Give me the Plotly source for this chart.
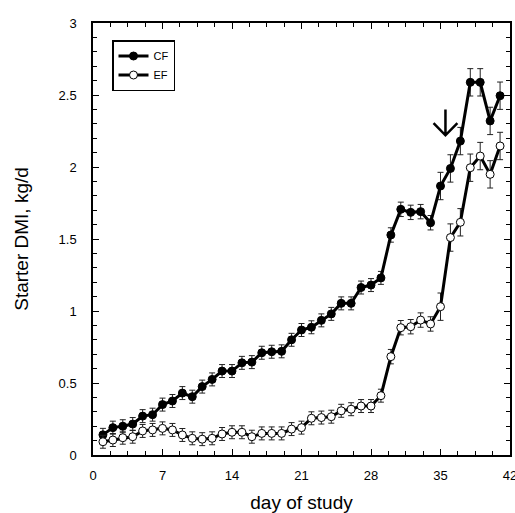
import plotly.graph_objects as go

days = list(range(1, 42))
cf_dmi = [0.14, 0.19, 0.20, 0.215, 0.27, 0.28, 0.35, 0.375, 0.43, 0.405,
          0.475, 0.525, 0.583, 0.583, 0.64, 0.645, 0.71, 0.717, 0.72, 0.80,
          0.868, 0.887, 0.935, 0.98, 1.053, 1.053, 1.163, 1.18, 1.23, 1.528,
          1.706, 1.685, 1.69, 1.613, 1.868, 1.99, 2.18, 2.588, 2.588, 2.32, 2.495]
ef_dmi = [0.092, 0.104, 0.12, 0.127, 0.167, 0.174, 0.185, 0.174, 0.139, 0.116,
          0.11, 0.116, 0.146, 0.158, 0.158, 0.127, 0.15, 0.15, 0.15, 0.18,
          0.19, 0.255, 0.26, 0.266, 0.307, 0.318, 0.34, 0.34, 0.412, 0.683,
          0.884, 0.891, 0.937, 0.91, 1.03, 1.51, 1.616, 1.995, 2.076, 1.949, 2.146]
cf_se = [0.045] * 29 + [0.05] * 5 + [0.095] * 7
ef_se = [0.045] * 29 + [0.05] * 5 + [0.095] * 7

x_ticks = [0, 7, 14, 21, 28, 35, 42]
y_ticks = [0, 0.5, 1, 1.5, 2, 2.5, 3]

arrow_day = 35.5
arrow_top = 2.40
arrow_tip = 2.22

FONT = "Liberation Sans, Arial, sans-serif"

W, H = 515, 513
ML, MR, MT, MB = 93, 5, 23, 58
PW, PH = W - ML - MR, H - MT - MB
X_RANGE = (0, 42)
Y_RANGE = (0, 3)


def px_x(p):
    return (p - ML) / PW


def px_y(p):
    return (H - MB - p) / PH


fig = go.Figure()

err_style = dict(type="data", thickness=1, width=3, color="#222222")
fig.add_trace(go.Scatter(
    x=days, y=cf_dmi, name="CF", mode="lines+markers",
    line=dict(color="black", width=3),
    marker=dict(symbol="circle", size=8, color="black", line=dict(color="black", width=1)),
    error_y=dict(array=cf_se, **err_style),
))
fig.add_trace(go.Scatter(
    x=days, y=ef_dmi, name="EF", mode="lines+markers",
    line=dict(color="black", width=3),
    marker=dict(symbol="circle", size=8, color="white", line=dict(color="black", width=1)),
    error_y=dict(array=ef_se, **err_style),
))

# downward arrow marker
hx, hy = 1.2, 0.085
fig.add_shape(type="path", xref="x", yref="y",
              path=(f"M{arrow_day},{arrow_top} L{arrow_day},{arrow_tip} "
                    f"M{arrow_day - hx},{arrow_tip + hy} L{arrow_day},{arrow_tip} "
                    f"L{arrow_day + hx},{arrow_tip + hy}"),
              line=dict(color="black", width=2.5))

axis_common = dict(
    showline=True, linecolor="black", linewidth=1.5, mirror="ticks",
    ticks="inside", ticklen=6, tickwidth=1, tickcolor="black",
    showgrid=False, zeroline=False, ticklabeloverflow="allow", automargin=False,
    tickfont=dict(family=FONT, size=13, color="black"),
)
fig.update_xaxes(range=list(X_RANGE), tickvals=x_ticks,
                 minor=dict(dtick=1.75, tick0=0, ticks="inside", ticklen=4, tickcolor="black", tickwidth=1),
                 title=dict(text="day of study", font=dict(family=FONT, size=19, color="black"), standoff=15),
                 ticklabelstandoff=8, **axis_common)
fig.update_yaxes(range=list(Y_RANGE), tickvals=y_ticks,
                 minor=dict(dtick=0.1, tick0=0, ticks="inside", ticklen=4, tickcolor="black", tickwidth=1),
                 title=dict(text="Starter DMI, kg/d", font=dict(family=FONT, size=19, color="black"), standoff=25),
                 ticklabelstandoff=12, **axis_common)

fig.update_layout(
    width=W, height=H,
    margin=dict(l=ML, r=MR, t=MT, b=MB, autoexpand=False),
    paper_bgcolor="white", plot_bgcolor="white",
    showlegend=True,
    legend=dict(x=px_x(112), y=px_y(40), xanchor="left", yanchor="top",
                bgcolor="white", bordercolor="black", borderwidth=1.5,
                font=dict(family=FONT, size=11, color="black"),
                tracegroupgap=0),
    font=dict(family=FONT, color="black"),
)

fig.write_html("out.html")
